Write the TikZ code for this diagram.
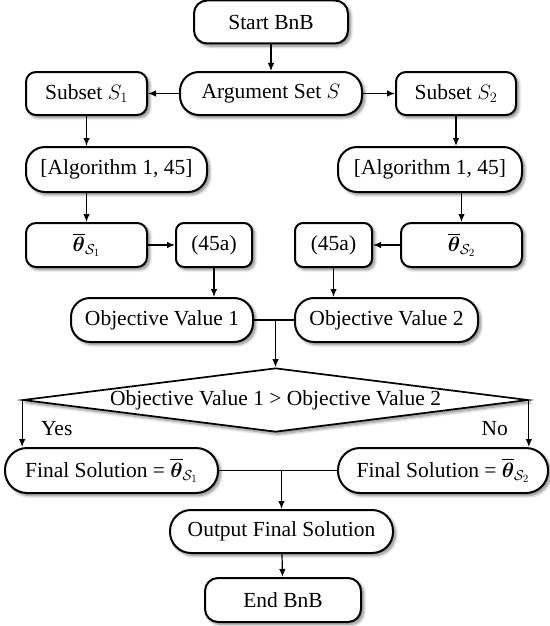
\documentclass[tikz,border=0pt]{standalone}
\usepackage{xcolor}
\usepackage{amsmath}
\usepackage{amssymb}
\usepackage{fontspec}
\setmainfont{Liberation Serif}
\usepackage{tikz}
\usetikzlibrary{shapes.geometric,arrows.meta,shadows.blur}

\begin{document}
\begin{tikzpicture}[x=1pt,y=-1pt,
  font=\fontsize{21.5}{24}\selectfont,
  soft/.style={blur shadow={shadow xshift=2.5pt,shadow yshift=-2.5pt,shadow blur steps=8,shadow blur radius=3pt,shadow opacity=50}},
  box/.style={draw,line width=2pt,fill=white,rounded corners=10pt,minimum height=43pt,inner sep=2pt,soft},
  pill/.style={box,rounded corners=19pt},
  decide/.style={draw,line width=1.7pt,fill=white,diamond,aspect=8,inner sep=0pt,minimum width=505pt,minimum height=64pt,soft},
  flow/.style={draw,line width=1.2pt,-{Latex[length=8pt,width=6.5pt]}},
  link/.style={draw,line width=1.2pt}]
%\draw[help lines] (0,0) grid[step=50] (549,626);
\useasboundingbox (0,0) rectangle (549,626);

\node[box,minimum width=154pt,rounded corners=13pt] (start) at (271,22) {Start BnB};
\node[pill,minimum width=182pt] (argset) at (271,93.5) {Argument Set $S$};
\node[box,minimum width=121pt] (sub1) at (86.5,93.5) {Subset $S_1$};
\node[box,minimum width=120pt] (sub2) at (456,93.5) {Subset $S_2$};

\node[pill,minimum width=181pt,minimum height=45pt] (alg1) at (116.5,169.5) {[Algorithm 1, 45]};
\node[pill,minimum width=184pt,minimum height=45pt] (alg2) at (430,169.5) {[Algorithm 1, 45]};

\node[box,minimum width=121pt,minimum height=44pt] (th1) at (86.5,245) {$\overline{\boldsymbol{\theta}}_{\mathcal{S}_1}$};
\node[box,minimum width=76pt,minimum height=44pt,rounded corners=8pt] (eq1) at (214,245) {(45a)};
\node[box,minimum width=77pt,minimum height=44pt,rounded corners=8pt] (eq2) at (333.5,245) {(45a)};
\node[box,minimum width=121pt,minimum height=44pt] (th2) at (461.5,245) {$\overline{\boldsymbol{\theta}}_{\mathcal{S}_2}$};

\node[pill,minimum width=182pt,minimum height=44pt] (ov1) at (162,320) {Objective Value 1};
\node[pill,minimum width=183pt,minimum height=44pt] (ov2) at (386.5,320) {Objective Value 2};

\node[decide] (cmp) at (275.5,400) {Objective Value 1 > Objective Value 2};

\node[pill,minimum width=213pt,minimum height=45pt,rounded corners=22pt] (fin1) at (111.5,470.5) {Final Solution = $\overline{\boldsymbol{\theta}}_{\mathcal{S}_1}$};
\node[pill,minimum width=210pt,minimum height=45pt,rounded corners=22pt] (fin2) at (443,470.5) {Final Solution = $\overline{\boldsymbol{\theta}}_{\mathcal{S}_2}$};

\node[pill,minimum width=223pt,rounded corners=21pt] (out) at (281.5,531.5) {Output Final Solution};
\node[box,minimum width=156pt,minimum height=44pt,rounded corners=13pt] (finish) at (283,600) {End BnB};

\draw[flow] (start) -- (argset);
\draw[flow] (argset) -- (sub1);
\draw[flow] (argset) -- (sub2);
\draw[flow] (sub1.south) -- (sub1.south |- alg1.north);
\draw[flow] (sub2.south) -- (sub2.south |- alg2.north);
\draw[flow] (th1.north |- alg1.south) -- (th1.north);
\draw[flow] (th2.north |- alg2.south) -- (th2.north);
\draw[flow] (th1) -- (eq1);
\draw[flow] (th2) -- (eq2);
\draw[flow] (eq1.south) -- (eq1.south |- ov1.north);
\draw[flow] (eq2.south) -- (eq2.south |- ov2.north);

\coordinate (j1) at (ov1.east -| cmp.north);
\draw[link] (ov1.east) -- (ov2.west);
\draw[flow] (j1) -- (cmp.north);

\draw[flow] (cmp.west) -- (cmp.west |- fin1.north) node[pos=0.6,right=15pt] (yes) {Yes};
\draw[flow] (cmp.east) -- (cmp.east |- fin2.north) node[pos=0.6,left=17pt] (no) {No};

\coordinate (j2) at (fin1.east -| out.north);
\draw[link] (fin1.east) -- (fin2.west);
\draw[flow] (j2) -- (out.north);
\draw[flow] (out) -- (finish);
\end{tikzpicture}
\end{document}
